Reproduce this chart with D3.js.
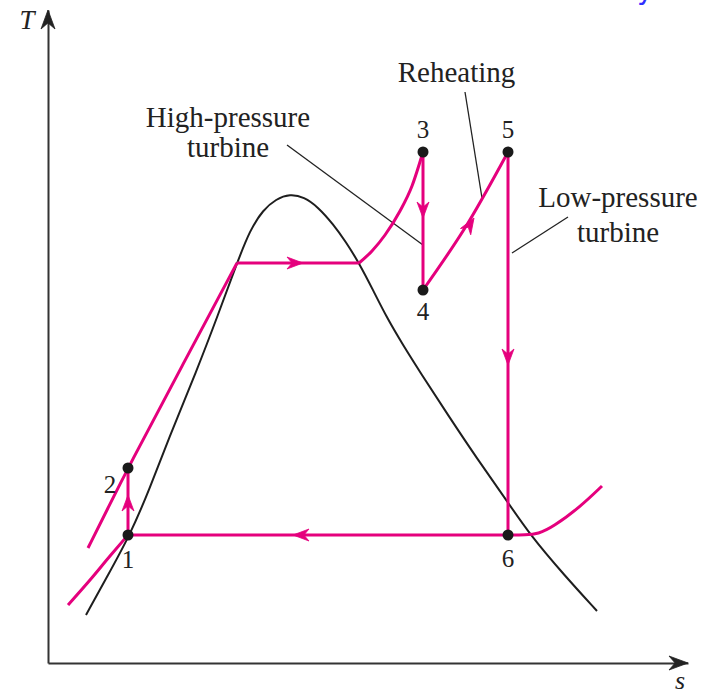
<!DOCTYPE html>
<html>
<head>
<meta charset="utf-8">
<script src="https://cdn.jsdelivr.net/npm/d3@7"></script>
<style>
  html, body { margin: 0; padding: 0; background: #ffffff; }
  svg { display: block; }
</style>
</head>
<body>
<script>
// ---------- data (s, T in diagram units) ----------
const domeCurve = [
  [38,48],[60,88],[82,128],[102,175],[120,223],[149,293],[170,348],[189,400],
  [202,433],[215,453],[228,464],[242,469],[256,466],[270,456],[285,439],
  [298,421],[311,400],[325,373],[339,345],[355,318],[372,291],[400,248],
  [430,203],[457,165],[482,128],[517,87],[549,52]
];
const compressedLine = [[40,115],[60,155],[80,195],[134,297],[189,400]];
const evaporation = [[189,400],[311,400]];
const superheat = [[311,400],[324,412],[337,428],[352,452],[364,477],[375,511]];
const hpExpansion = [[375,511],[375,373]];
const reheat = [[375,373],[420,440],[460,511]];
const lpExpansion = [[460,511],[460,128]];
const condensation = [[460,128],[80,128]];
const lowIsobarLeft = [[20,58],[42,83],[62,107],[80,128]];
const lowIsobarRight = [[460,128],[478,128],[490,129],[505,136],[532,156],[554,177]];
const pump = [[80,128],[80,195]];

const statePoints = [
  {id:"1", s:80,  T:128, dx:0,   dy:33},
  {id:"2", s:80,  T:195, dx:-18, dy:25},
  {id:"3", s:375, T:511, dx:0,   dy:-14},
  {id:"4", s:375, T:373, dx:0,   dy:30},
  {id:"5", s:460, T:511, dx:0,   dy:-14},
  {id:"6", s:460, T:128, dx:0,   dy:32}
];
// flow arrows: tip position and direction (data units)
const flowArrows = [
  {s:80,  T:168, ds:0,  dT:1},
  {s:255, T:400, ds:1,  dT:0},
  {s:375, T:445, ds:0,  dT:-1},
  {s:426, T:445, ds:85, dT:138},
  {s:460, T:298, ds:0,  dT:-1},
  {s:245, T:128, ds:-1, dT:0}
];
const leaderLines = [
  [[417,571],[434,465]],
  [[239,518],[375,418]],
  [[520,446],[464,410]]
];
const labels = [
  {text:"Reheating",     s:408.5, T:581},
  {text:"High-pressure", s:180,   T:536},
  {text:"turbine",       s:180,   T:506},
  {text:"Low-pressure",  s:570,   T:456},
  {text:"turbine",       s:570,   T:421}
];
const axisLabels = {x:"s", y:"T"};

// ---------- drawing ----------
const W = 717, H = 695;
const pink = "#e5007d";
const serif = "'Liberation Serif', 'Times New Roman', serif";

const svg = d3.select("body").append("svg").attr("width", W).attr("height", H);

const x = d3.scaleLinear().domain([0, 640]).range([48, 688]);
const y = d3.scaleLinear().domain([0, 653]).range([663, 10]);

const line = d3.line().x(d => x(d[0])).y(d => y(d[1]));
const curve = d3.line().x(d => x(d[0])).y(d => y(d[1])).curve(d3.curveMonotoneX);
const smooth = d3.line().x(d => x(d[0])).y(d => y(d[1])).curve(d3.curveBasis);

// blue fragment at top (cut-off text)
svg.append("text").attr("x", 637).attr("y", -1)
  .attr("font-family", "'DejaVu Sans', sans-serif").attr("font-size", 28)
  .attr("fill", "#2f2fff").text("y");

// axes
svg.append("g").attr("transform", `translate(0,${y(0)})`)
  .call(d3.axisBottom(x).tickValues([]).tickSizeOuter(0));
svg.append("g").attr("transform", `translate(${x(0)},0)`)
  .call(d3.axisLeft(y).tickValues([]).tickSizeOuter(0));
svg.selectAll(".domain").attr("stroke", "#333").attr("stroke-width", 2);

function arrowHead(g, px, py, angle, L, Wd, color) {
  const p = `M0,0 L${-L},${-Wd/2} L${-L*0.68},0 L${-L},${Wd/2} Z`;
  g.append("path").attr("d", p)
    .attr("transform", `translate(${px},${py}) rotate(${angle})`)
    .attr("fill", color).attr("stroke", color).attr("stroke-width", 0.8)
    .attr("stroke-linejoin", "miter");
}
arrowHead(svg, x(640), y(0), 0, 19, 14, "#222");
arrowHead(svg, x(0), y(653), -90, 19, 14, "#222");

svg.append("text").attr("x", 27).attr("y", 29).attr("text-anchor", "middle")
  .attr("font-family", serif).attr("font-style", "italic").attr("font-size", 27)
  .attr("fill", "#222").text(axisLabels.y);
svg.append("text").attr("x", 680).attr("y", 689).attr("text-anchor", "middle")
  .attr("font-family", serif).attr("font-style", "italic").attr("font-size", 26)
  .attr("fill", "#222").text(axisLabels.x);

// saturation dome
svg.append("path").attr("d", smooth(domeCurve))
  .attr("fill", "none").attr("stroke", "#1e1e1e").attr("stroke-width", 2);

// leader lines
leaderLines.forEach(l => {
  svg.append("path").attr("d", line(l))
    .attr("fill", "none").attr("stroke", "#222").attr("stroke-width", 1.3);
});

// pink cycle
const pinkPaths = [
  [compressedLine, smooth], [evaporation, line], [superheat, curve],
  [hpExpansion, line], [reheat, curve], [lpExpansion, line],
  [condensation, line], [lowIsobarLeft, curve], [lowIsobarRight, smooth], [pump, line]
];
pinkPaths.forEach(([d, gen]) => {
  svg.append("path").attr("d", gen(d))
    .attr("fill", "none").attr("stroke", pink).attr("stroke-width", 3)
    .attr("stroke-linecap", "butt");
});

// flow arrows
const kx = x(1) - x(0), ky = y(1) - y(0);
flowArrows.forEach(a => {
  const ang = Math.atan2(a.dT * ky, a.ds * kx) * 180 / Math.PI;
  arrowHead(svg, x(a.s), y(a.T), ang, 16, 12, pink);
});

// state points
svg.selectAll("circle.pt").data(statePoints).join("circle")
  .attr("class", "pt").attr("cx", d => x(d.s)).attr("cy", d => y(d.T))
  .attr("r", 5.5).attr("fill", "#1a1a1a");
svg.selectAll("text.pl").data(statePoints).join("text")
  .attr("class", "pl").attr("x", d => x(d.s) + d.dx).attr("y", d => y(d.T) + d.dy)
  .attr("text-anchor", "middle").attr("font-family", serif).attr("font-size", 25)
  .attr("fill", "#222").text(d => d.id);

// annotations
svg.selectAll("text.ann").data(labels).join("text")
  .attr("class", "ann").attr("x", d => x(d.s)).attr("y", d => y(d.T))
  .attr("text-anchor", "middle").attr("font-family", serif).attr("font-size", 29)
  .attr("fill", "#222").text(d => d.text);
</script>
</body>
</html>
